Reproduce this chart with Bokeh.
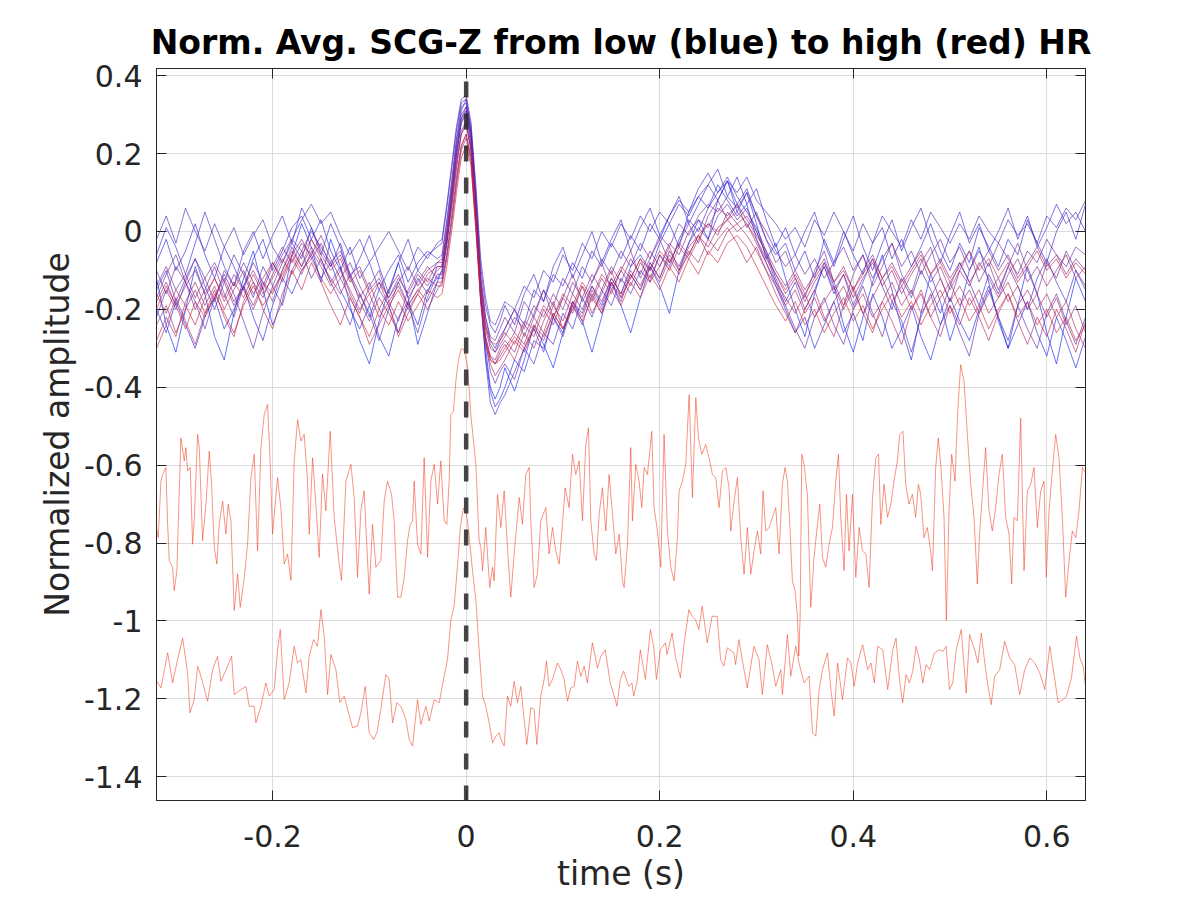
import numpy as np
from bokeh.plotting import figure
from bokeh.models import (Range1d, FixedTicker, LinearAxis, CustomJSTickFormatter,
                          CustomLabelingPolicy)
from bokeh.embed import file_html
from bokeh.resources import INLINE

# ---------------- data ----------------
title_text = "Norm. Avg. SCG-Z from low (blue) to high (red) HR"
x_label = "time (s)"
y_label = "Normalized amplitude"
x_ticks = [-0.2, 0.0, 0.2, 0.4, 0.6]
y_ticks = [-1.4, -1.2, -1.0, -0.8, -0.6, -0.4, -0.2, 0.0, 0.2, 0.4]
x_lim = [-0.32, 0.64]
y_lim = [-1.461, 0.4185]

# beat onset marker (t = 0)
marker_t = [0.0, 0.0]
marker_v = [0.385, -1.461]

# common time base of the averaged beats (s)
t_bundle = np.concatenate([np.linspace(-0.32, -0.03, 30),
                           np.linspace(-0.025, 0.035, 13),
                           np.linspace(0.04, 0.64, 61)])

# averaged beats (listed from low HR / blue to high HR / red in `bundle` below)
hr13 = [-0.12, -0.24, -0.31, -0.20, -0.09, -0.16, -0.27, -0.33, -0.21, -0.12,
        -0.05, -0.15, -0.24, -0.18, -0.06, 0.02, -0.04, -0.13, -0.02, -0.09,
        -0.19, -0.28, -0.34, -0.23, -0.15, -0.08, -0.17, -0.29, -0.21, -0.13,
        -0.10, -0.02, 0.09, 0.20, 0.29, 0.31, 0.24, 0.06, -0.15, -0.30, -0.40, -0.43, -0.40,
        -0.35, -0.41, -0.33, -0.24, -0.29, -0.35, -0.26, -0.18, -0.23, -0.31,
        -0.22, -0.13, -0.19, -0.26, -0.17, -0.09, -0.14, -0.21, -0.10, -0.03,
        0.03, -0.02, 0.08, 0.13, 0.05, 0.10, 0.02, -0.07, -0.03, -0.12,
        -0.20, -0.27, -0.16, -0.08, -0.14, -0.24, -0.31, -0.22, -0.13, -0.06,
        -0.15, -0.25, -0.33, -0.21, -0.11, -0.18, -0.28, -0.20, -0.10, -0.04,
        -0.13, -0.23, -0.30, -0.19, -0.09, -0.16, -0.26, -0.34, -0.22, -0.12, -0.18]
hr01 = [-0.20, -0.26, -0.18, -0.24, -0.30, -0.22, -0.17, -0.25, -0.20, -0.14,
        -0.22, -0.28, -0.19, -0.12, -0.16, -0.10, -0.06, -0.12, -0.08, -0.15,
        -0.20, -0.25, -0.19, -0.27, -0.32, -0.22, -0.18, -0.24, -0.15, -0.12,
        -0.12, -0.03, 0.08, 0.19, 0.28, 0.30, 0.22, 0.04, -0.18, -0.32, -0.41, -0.45, -0.43,
        -0.40, -0.33, -0.36, -0.28, -0.30, -0.22, -0.26, -0.18, -0.21, -0.14,
        -0.19, -0.12, -0.16, -0.09, -0.06, -0.10, -0.03, 0.02, -0.04, 0.05,
        0.09, 0.06, 0.12, 0.08, 0.04, 0.07, -0.02, -0.08, -0.14, -0.20,
        -0.26, -0.22, -0.30, -0.24, -0.18, -0.26, -0.21, -0.28, -0.16, -0.22,
        -0.30, -0.25, -0.19, -0.27, -0.33, -0.24, -0.17, -0.23, -0.28, -0.20,
        -0.14, -0.22, -0.30, -0.24, -0.18, -0.26, -0.32, -0.22, -0.28, -0.35, -0.27]
hr02 = [-0.08, -0.02, -0.10, -0.05, 0.02, -0.06, -0.12, -0.04, -0.09, -0.15,
        -0.07, -0.02, -0.10, -0.05, 0.01, 0.04, -0.02, 0.03, -0.05, -0.10,
        -0.04, -0.12, -0.08, -0.15, -0.10, -0.06, -0.13, -0.08, -0.05, -0.07,
        -0.06, 0.03, 0.13, 0.24, 0.32, 0.33, 0.25, 0.08, -0.12, -0.22, -0.28, -0.30, -0.27,
        -0.25, -0.20, -0.24, -0.15, -0.18, -0.11, -0.14, -0.08, -0.12, -0.05,
        -0.09, -0.03, -0.07, -0.01, -0.05, 0.02, -0.02, 0.04, 0.08, 0.05,
        0.11, 0.15, 0.10, 0.13, 0.07, 0.11, 0.04, -0.02, -0.06, -0.03,
        -0.10, -0.05, -0.12, -0.02, -0.08, 0.00, -0.06, -0.11, -0.03, 0.01,
        -0.07, -0.02, -0.09, -0.04, 0.02, -0.05, -0.10, -0.03, -0.08, 0.01,
        -0.04, -0.09, -0.02, -0.06, 0.03, -0.03, -0.08, 0.00, 0.05, -0.02, 0.07]
hr14 = [-0.06, 0.01, -0.04, -0.11, -0.03, 0.05, -0.02, -0.09, -0.14, -0.05,
        0.00, -0.07, -0.01, 0.04, -0.03, 0.06, 0.01, -0.06, 0.02, -0.04,
        -0.12, -0.07, -0.01, -0.09, -0.16, -0.08, -0.02, -0.10, -0.06, -0.04,
        -0.03, 0.06, 0.16, 0.26, 0.33, 0.34, 0.27, 0.10, -0.09, -0.19, -0.24, -0.26, -0.23,
        -0.19, -0.24, -0.16, -0.11, -0.18, -0.09, -0.04, -0.12, -0.06, 0.00,
        -0.08, -0.02, 0.03, -0.05, 0.01, 0.06, -0.01, 0.04, 0.09, 0.02,
        0.07, 0.12, 0.16, 0.09, 0.14, 0.07, 0.11, 0.03, -0.04, 0.01,
        -0.06, 0.00, 0.05, -0.03, -0.09, -0.02, 0.04, -0.04, -0.10, -0.03,
        0.03, -0.05, 0.01, 0.06, -0.02, -0.08, -0.01, 0.05, -0.03, 0.02,
        -0.05, 0.00, 0.06, -0.02, 0.04, -0.04, 0.01, 0.07, 0.02, 0.05, 0.00]
hr03 = [-0.15, -0.10, -0.18, -0.12, -0.07, -0.14, -0.20, -0.13, -0.06, -0.11,
        -0.17, -0.09, -0.14, -0.08, -0.03, -0.07, 0.01, -0.05, -0.09, -0.03,
        -0.11, -0.16, -0.22, -0.15, -0.19, -0.26, -0.18, -0.12, -0.16, -0.09,
        -0.09, 0.00, 0.11, 0.22, 0.30, 0.32, 0.25, 0.07, -0.16, -0.33, -0.44, -0.47, -0.44,
        -0.42, -0.36, -0.30, -0.34, -0.26, -0.29, -0.21, -0.25, -0.17, -0.22,
        -0.15, -0.19, -0.12, -0.16, -0.10, -0.13, -0.06, -0.09, -0.02, 0.03,
        0.00, 0.06, 0.10, 0.14, 0.09, 0.05, 0.01, -0.05, -0.12, -0.18,
        -0.13, -0.20, -0.15, -0.09, -0.16, -0.11, -0.19, -0.13, -0.07, -0.14,
        -0.20, -0.12, -0.17, -0.10, -0.15, -0.21, -0.14, -0.08, -0.13, -0.19,
        -0.11, -0.16, -0.09, -0.14, -0.20, -0.12, -0.07, -0.13, -0.18, -0.10, -0.15]
hr04 = [-0.02, 0.04, -0.03, 0.06, 0.00, -0.05, 0.02, -0.04, 0.01, -0.06,
        -0.01, 0.03, -0.04, -0.08, -0.02, 0.03, 0.07, 0.02, 0.05, -0.01,
        -0.06, -0.02, -0.08, -0.04, 0.00, -0.05, -0.10, -0.04, -0.07, -0.03,
        -0.02, 0.07, 0.17, 0.27, 0.34, 0.35, 0.28, 0.12, -0.07, -0.17, -0.23, -0.24, -0.21,
        -0.18, -0.20, -0.14, -0.17, -0.10, -0.13, -0.06, -0.10, -0.03, -0.07,
        0.00, -0.04, 0.02, -0.02, 0.04, 0.00, 0.05, 0.02, 0.07, 0.04,
        0.09, 0.12, 0.08, 0.13, 0.10, 0.14, 0.08, 0.05, 0.02, -0.02,
        0.01, -0.04, 0.03, -0.01, 0.05, 0.00, -0.05, 0.02, -0.03, 0.04,
        0.00, -0.04, 0.03, -0.02, 0.05, 0.01, -0.03, 0.02, -0.02, 0.04,
        0.00, -0.03, 0.03, -0.01, 0.02, -0.03, 0.04, 0.01, 0.06, 0.03, 0.08]
hr05 = [-0.22, -0.15, -0.20, -0.13, -0.18, -0.25, -0.17, -0.11, -0.16, -0.23,
        -0.30, -0.21, -0.14, -0.19, -0.10, -0.05, -0.12, -0.07, -0.13, -0.18,
        -0.24, -0.16, -0.21, -0.28, -0.20, -0.13, -0.19, -0.26, -0.17, -0.11,
        -0.11, -0.03, 0.07, 0.17, 0.26, 0.28, 0.21, 0.04, -0.16, -0.28, -0.36, -0.39, -0.36,
        -0.34, -0.38, -0.30, -0.25, -0.31, -0.22, -0.27, -0.19, -0.24, -0.16,
        -0.21, -0.13, -0.18, -0.11, -0.15, -0.08, -0.12, -0.05, -0.09, -0.03,
        0.01, -0.02, 0.04, 0.07, 0.03, 0.06, 0.00, -0.06, -0.13, -0.19,
        -0.25, -0.30, -0.22, -0.17, -0.24, -0.29, -0.20, -0.14, -0.21, -0.27,
        -0.18, -0.23, -0.31, -0.22, -0.16, -0.24, -0.19, -0.26, -0.32, -0.21,
        -0.15, -0.22, -0.28, -0.19, -0.25, -0.30, -0.21, -0.16, -0.23, -0.29, -0.22]
hr06 = [-0.10, -0.16, -0.09, -0.13, -0.07, -0.12, -0.18, -0.10, -0.14, -0.08,
        -0.13, -0.17, -0.11, -0.06, -0.02, -0.05, 0.00, -0.04, -0.08, -0.05,
        -0.11, -0.09, -0.15, -0.12, -0.17, -0.13, -0.09, -0.14, -0.10, -0.08,
        -0.07, 0.02, 0.12, 0.23, 0.31, 0.34, 0.26, 0.09, -0.11, -0.22, -0.27, -0.28, -0.25,
        -0.22, -0.26, -0.18, -0.22, -0.15, -0.19, -0.12, -0.16, -0.09, -0.13,
        -0.07, -0.11, -0.05, -0.09, -0.03, -0.07, -0.01, -0.04, 0.02, -0.01,
        0.04, 0.07, 0.05, 0.09, 0.06, 0.10, 0.04, 0.00, -0.05, -0.09,
        -0.06, -0.11, -0.07, -0.12, -0.08, -0.04, -0.10, -0.06, -0.12, -0.07,
        -0.03, -0.09, -0.05, -0.11, -0.06, -0.02, -0.08, -0.04, -0.10, -0.05,
        -0.09, -0.03, -0.07, -0.11, -0.05, -0.08, -0.02, -0.06, -0.09, -0.04, -0.06]
hr15 = [-0.17, -0.11, -0.06, -0.13, -0.20, -0.15, -0.09, -0.16, -0.22, -0.14,
        -0.08, -0.13, -0.18, -0.10, -0.04, -0.09, -0.02, -0.07, -0.13, -0.09,
        -0.16, -0.21, -0.14, -0.10, -0.18, -0.23, -0.15, -0.10, -0.13, -0.08,
        -0.08, 0.00, 0.10, 0.21, 0.29, 0.32, 0.25, 0.07, -0.13, -0.24, -0.29, -0.31, -0.28,
        -0.25, -0.20, -0.27, -0.21, -0.15, -0.22, -0.17, -0.11, -0.18, -0.13,
        -0.08, -0.15, -0.10, -0.05, -0.12, -0.07, -0.02, -0.08, -0.03, 0.02,
        -0.03, 0.04, 0.08, 0.03, 0.07, 0.01, 0.05, -0.02, -0.08, -0.05,
        -0.12, -0.17, -0.10, -0.05, -0.13, -0.19, -0.11, -0.06, -0.14, -0.09,
        -0.03, -0.11, -0.16, -0.08, -0.04, -0.12, -0.18, -0.10, -0.05, -0.13,
        -0.08, -0.15, -0.09, -0.03, -0.10, -0.16, -0.08, -0.12, -0.05, -0.10, -0.14]
hr07 = [-0.14, -0.09, -0.15, -0.11, -0.17, -0.12, -0.08, -0.13, -0.19, -0.14,
        -0.10, -0.15, -0.09, -0.04, -0.08, -0.03, -0.06, -0.01, -0.07, -0.12,
        -0.08, -0.14, -0.19, -0.13, -0.17, -0.12, -0.16, -0.11, -0.14, -0.10,
        -0.09, -0.01, 0.09, 0.20, 0.28, 0.31, 0.23, 0.06, -0.14, -0.25, -0.30, -0.31, -0.29,
        -0.27, -0.22, -0.25, -0.19, -0.22, -0.16, -0.20, -0.13, -0.17, -0.11,
        -0.15, -0.09, -0.13, -0.07, -0.11, -0.05, -0.09, -0.03, -0.06, 0.00,
        0.03, 0.01, 0.06, 0.04, 0.07, 0.03, -0.01, -0.05, -0.10, -0.14,
        -0.10, -0.15, -0.11, -0.07, -0.13, -0.09, -0.15, -0.10, -0.06, -0.12,
        -0.08, -0.13, -0.09, -0.05, -0.11, -0.07, -0.12, -0.08, -0.13, -0.09,
        -0.05, -0.10, -0.06, -0.12, -0.08, -0.04, -0.09, -0.06, -0.11, -0.07, -0.10]
hr08 = [-0.18, -0.13, -0.19, -0.14, -0.10, -0.16, -0.12, -0.17, -0.11, -0.15,
        -0.20, -0.14, -0.08, -0.12, -0.06, -0.02, -0.07, -0.03, -0.09, -0.06,
        -0.12, -0.17, -0.13, -0.20, -0.15, -0.11, -0.17, -0.13, -0.09, -0.12,
        -0.10, -0.03, 0.06, 0.16, 0.25, 0.28, 0.21, 0.04, -0.15, -0.27, -0.32, -0.33, -0.30,
        -0.28, -0.31, -0.24, -0.27, -0.20, -0.24, -0.17, -0.21, -0.14, -0.18,
        -0.12, -0.16, -0.10, -0.14, -0.08, -0.12, -0.06, -0.10, -0.04, -0.07,
        -0.02, 0.02, -0.01, 0.05, 0.02, 0.04, 0.00, -0.06, -0.11, -0.16,
        -0.12, -0.18, -0.13, -0.09, -0.15, -0.11, -0.17, -0.12, -0.08, -0.14,
        -0.10, -0.16, -0.11, -0.07, -0.13, -0.09, -0.15, -0.10, -0.14, -0.08,
        -0.12, -0.17, -0.11, -0.07, -0.13, -0.09, -0.14, -0.10, -0.06, -0.12, -0.09]
hr09 = [-0.24, -0.19, -0.26, -0.20, -0.15, -0.21, -0.17, -0.12, -0.18, -0.14,
        -0.19, -0.13, -0.16, -0.10, -0.05, -0.09, -0.04, -0.08, -0.12, -0.16,
        -0.11, -0.18, -0.23, -0.17, -0.21, -0.26, -0.19, -0.15, -0.18, -0.13,
        -0.13, -0.06, 0.03, 0.13, 0.22, 0.25, 0.19, 0.02, -0.17, -0.28, -0.33, -0.34, -0.32,
        -0.30, -0.26, -0.29, -0.22, -0.26, -0.19, -0.23, -0.16, -0.20, -0.14,
        -0.18, -0.12, -0.16, -0.10, -0.14, -0.08, -0.12, -0.06, -0.10, -0.04,
        -0.01, -0.04, 0.01, 0.03, 0.00, 0.02, -0.03, -0.08, -0.13, -0.17,
        -0.21, -0.16, -0.22, -0.18, -0.14, -0.20, -0.15, -0.21, -0.17, -0.12,
        -0.18, -0.14, -0.20, -0.16, -0.22, -0.17, -0.13, -0.19, -0.15, -0.21,
        -0.16, -0.12, -0.18, -0.14, -0.20, -0.16, -0.22, -0.17, -0.24, -0.19, -0.26]
hr10 = [-0.28, -0.22, -0.27, -0.18, -0.13, -0.19, -0.14, -0.20, -0.15, -0.10,
        -0.16, -0.12, -0.08, -0.13, -0.07, -0.11, -0.05, -0.09, -0.14, -0.10,
        -0.15, -0.20, -0.16, -0.22, -0.18, -0.14, -0.19, -0.15, -0.12, -0.14,
        -0.14, -0.07, 0.02, 0.12, 0.21, 0.24, 0.18, 0.01, -0.18, -0.29, -0.34, -0.37, -0.35,
        -0.33, -0.28, -0.31, -0.25, -0.28, -0.21, -0.25, -0.18, -0.22, -0.15,
        -0.20, -0.13, -0.17, -0.11, -0.15, -0.09, -0.13, -0.07, -0.11, -0.05,
        -0.08, -0.02, -0.05, 0.00, 0.02, -0.01, -0.05, -0.10, -0.14, -0.19,
        -0.15, -0.21, -0.17, -0.23, -0.18, -0.14, -0.20, -0.16, -0.22, -0.18,
        -0.13, -0.19, -0.15, -0.21, -0.17, -0.12, -0.18, -0.14, -0.19, -0.15,
        -0.21, -0.17, -0.13, -0.19, -0.15, -0.20, -0.16, -0.22, -0.18, -0.25, -0.30]
hr16 = [-0.30, -0.24, -0.17, -0.23, -0.29, -0.21, -0.15, -0.22, -0.27, -0.18,
        -0.13, -0.20, -0.25, -0.16, -0.10, -0.15, -0.08, -0.13, -0.19, -0.24,
        -0.17, -0.22, -0.29, -0.24, -0.19, -0.27, -0.21, -0.16, -0.20, -0.15,
        -0.13, -0.06, 0.04, 0.14, 0.22, 0.25, 0.19, 0.02, -0.17, -0.27, -0.32, -0.34, -0.31,
        -0.29, -0.33, -0.26, -0.30, -0.23, -0.18, -0.25, -0.20, -0.14, -0.21,
        -0.16, -0.10, -0.17, -0.12, -0.07, -0.13, -0.09, -0.04, -0.10, -0.06,
        -0.01, -0.06, -0.02, 0.01, -0.03, -0.08, -0.04, -0.10, -0.16, -0.21,
        -0.26, -0.20, -0.15, -0.22, -0.27, -0.19, -0.14, -0.21, -0.26, -0.18,
        -0.23, -0.29, -0.20, -0.15, -0.22, -0.27, -0.19, -0.24, -0.17, -0.22,
        -0.28, -0.21, -0.16, -0.23, -0.29, -0.22, -0.27, -0.20, -0.25, -0.31, -0.23]
hr11 = [-0.16, -0.21, -0.15, -0.19, -0.24, -0.17, -0.12, -0.18, -0.13, -0.17,
        -0.11, -0.16, -0.12, -0.07, -0.11, -0.06, -0.02, -0.06, -0.10, -0.07,
        -0.13, -0.10, -0.16, -0.13, -0.19, -0.15, -0.20, -0.16, -0.11, -0.09,
        -0.09, -0.01, 0.08, 0.18, 0.25, 0.27, 0.21, 0.05, -0.14, -0.24, -0.28, -0.29, -0.28,
        -0.26, -0.29, -0.23, -0.25, -0.19, -0.22, -0.16, -0.19, -0.13, -0.17,
        -0.11, -0.14, -0.09, -0.12, -0.07, -0.10, -0.05, -0.08, -0.03, -0.06,
        -0.01, 0.02, 0.00, 0.03, 0.05, 0.02, -0.02, -0.07, -0.11, -0.15,
        -0.11, -0.16, -0.12, -0.08, -0.13, -0.10, -0.15, -0.11, -0.07, -0.12,
        -0.09, -0.14, -0.10, -0.06, -0.11, -0.08, -0.13, -0.09, -0.05, -0.10,
        -0.07, -0.12, -0.08, -0.13, -0.09, -0.05, -0.10, -0.07, -0.12, -0.08, -0.11]
hr12 = [-0.20, -0.14, -0.19, -0.25, -0.18, -0.22, -0.16, -0.21, -0.26, -0.19,
        -0.14, -0.19, -0.15, -0.11, -0.06, -0.10, -0.07, -0.12, -0.16, -0.12,
        -0.17, -0.22, -0.27, -0.20, -0.24, -0.18, -0.23, -0.19, -0.15, -0.17,
        -0.16, -0.09, 0.00, 0.10, 0.19, 0.22, 0.17, 0.00, -0.18, -0.28, -0.33, -0.34, -0.33,
        -0.31, -0.27, -0.30, -0.24, -0.27, -0.21, -0.25, -0.19, -0.23, -0.17,
        -0.21, -0.15, -0.19, -0.13, -0.17, -0.11, -0.15, -0.09, -0.13, -0.07,
        -0.11, -0.05, -0.08, -0.03, -0.01, -0.04, -0.09, -0.14, -0.19, -0.23,
        -0.18, -0.24, -0.20, -0.26, -0.21, -0.17, -0.23, -0.19, -0.25, -0.20,
        -0.16, -0.22, -0.18, -0.24, -0.19, -0.15, -0.21, -0.17, -0.23, -0.19,
        -0.25, -0.20, -0.16, -0.22, -0.18, -0.24, -0.20, -0.26, -0.22, -0.28, -0.24]

# the two highest-HR averages (shifted down), (time, amplitude)
mid_pts = [
    (-0.3215, -0.675), (-0.3206, -0.752), (-0.3182, -0.786), (-0.3154, -0.641), (-0.3137, -0.624),
    (-0.3103, -0.606), (-0.3085, -0.752), (-0.3068, -0.845), (-0.3034, -0.862), (-0.3017, -0.922),
    (-0.2989, -0.871), (-0.2965, -0.666), (-0.2948, -0.530), (-0.2913, -0.589), (-0.2896, -0.555),
    (-0.2879, -0.615), (-0.2851, -0.606), (-0.2827, -0.803), (-0.2810, -0.743), (-0.2775, -0.521),
    (-0.2758, -0.555), (-0.2724, -0.794), (-0.2689, -0.700), (-0.2655, -0.564), (-0.2631, -0.649),
    (-0.2603, -0.811), (-0.2576, -0.854), (-0.2552, -0.752), (-0.2517, -0.692), (-0.2483, -0.777),
    (-0.2459, -0.700), (-0.2431, -0.743), (-0.2397, -0.973), (-0.2362, -0.879), (-0.2335, -0.965),
    (-0.2293, -0.888), (-0.2259, -0.803), (-0.2224, -0.632), (-0.2190, -0.572), (-0.2156, -0.820),
    (-0.2121, -0.555), (-0.2087, -0.470), (-0.2052, -0.444), (-0.2025, -0.598), (-0.2001, -0.777),
    (-0.1949, -0.632), (-0.1915, -0.709), (-0.1880, -0.854), (-0.1846, -0.828), (-0.1811, -0.896),
    (-0.1777, -0.589), (-0.1742, -0.483), (-0.1708, -0.538), (-0.1674, -0.521), (-0.1639, -0.641),
    (-0.1622, -0.777), (-0.1587, -0.581), (-0.1553, -0.700), (-0.1519, -0.837), (-0.1484, -0.623),
    (-0.1450, -0.717), (-0.1405, -0.513), (-0.1364, -0.734), (-0.1312, -0.854), (-0.1288, -0.896),
    (-0.1243, -0.641), (-0.1191, -0.598), (-0.1157, -0.683), (-0.1123, -0.888), (-0.1088, -0.717),
    (-0.1054, -0.666), (-0.1002, -0.931), (-0.0968, -0.752), (-0.0933, -0.862), (-0.0882, -0.845),
    (-0.0847, -0.692), (-0.0813, -0.641), (-0.0771, -0.675), (-0.0744, -0.743), (-0.0709, -0.939),
    (-0.0675, -0.939), (-0.0640, -0.888), (-0.0606, -0.794), (-0.0579, -0.752), (-0.0554, -0.743),
    (-0.0537, -0.641), (-0.0503, -0.803), (-0.0468, -0.828), (-0.0434, -0.581), (-0.0399, -0.837),
    (-0.0365, -0.641), (-0.0331, -0.598), (-0.0296, -0.700), (-0.0262, -0.589), (-0.0227, -0.743),
    (-0.0200, -0.752), (-0.0176, -0.641), (-0.0158, -0.470), (-0.0131, -0.461), (-0.0107, -0.385),
    (-0.0080, -0.330), (-0.0050, -0.300), (-0.0020, -0.305), (0.0010, -0.340), (0.0030, -0.400),
    (0.0048, -0.470), (0.0100, -0.598), (0.0134, -0.794), (0.0152, -0.811), (0.0169, -0.871),
    (0.0203, -0.760), (0.0220, -0.828), (0.0244, -0.914), (0.0272, -0.862), (0.0289, -0.897),
    (0.0324, -0.675), (0.0358, -0.760), (0.0393, -0.666), (0.0427, -0.811), (0.0461, -0.939),
    (0.0496, -0.828), (0.0548, -0.683), (0.0582, -0.752), (0.0616, -0.624), (0.0651, -0.606),
    (0.0668, -0.743), (0.0702, -0.914), (0.0737, -0.879), (0.0771, -0.743), (0.0823, -0.709),
    (0.0857, -0.828), (0.0892, -0.760), (0.0926, -0.820), (0.0961, -0.854), (0.0995, -0.752),
    (0.1023, -0.658), (0.1064, -0.709), (0.1098, -0.572), (0.1133, -0.624), (0.1167, -0.589),
    (0.1202, -0.743), (0.1236, -0.547), (0.1264, -0.504), (0.1288, -0.743), (0.1322, -0.828),
    (0.1346, -0.845), (0.1374, -0.726), (0.1408, -0.658), (0.1443, -0.769), (0.1477, -0.624),
    (0.1512, -0.726), (0.1546, -0.828), (0.1581, -0.777), (0.1615, -0.897), (0.1632, -0.914),
    (0.1667, -0.803), (0.1701, -0.555), (0.1718, -0.743), (0.1753, -0.598), (0.1787, -0.641),
    (0.1815, -0.709), (0.1839, -0.606), (0.1873, -0.624), (0.1918, -0.513), (0.1942, -0.709),
    (0.1977, -0.769), (0.2011, -0.862), (0.2045, -0.521), (0.2080, -0.769), (0.2114, -0.862),
    (0.2149, -0.897), (0.2183, -0.786), (0.2200, -0.666), (0.2235, -0.641), (0.2269, -0.598),
    (0.2304, -0.419), (0.2338, -0.683), (0.2373, -0.427), (0.2400, -0.530), (0.2435, -0.572),
    (0.2476, -0.547), (0.2510, -0.581), (0.2545, -0.624), (0.2579, -0.632), (0.2614, -0.709),
    (0.2648, -0.615), (0.2683, -0.606), (0.2717, -0.658), (0.2734, -0.769), (0.2769, -0.692),
    (0.2803, -0.632), (0.2837, -0.786), (0.2872, -0.880), (0.2906, -0.760), (0.2941, -0.880),
    (0.2975, -0.820), (0.3010, -0.769), (0.3044, -0.828), (0.3068, -0.666), (0.3096, -0.769),
    (0.3130, -0.760), (0.3199, -0.709), (0.3233, -0.828), (0.3268, -0.649), (0.3296, -0.606),
    (0.3320, -0.641), (0.3344, -0.752), (0.3371, -0.897), (0.3399, -0.922), (0.3423, -0.990),
    (0.3437, -1.090), (0.3451, -0.990), (0.3468, -0.572), (0.3492, -0.598), (0.3526, -0.675),
    (0.3561, -0.965), (0.3595, -0.837), (0.3630, -0.752), (0.3654, -0.700), (0.3682, -0.837),
    (0.3716, -0.862), (0.3750, -0.803), (0.3785, -0.760), (0.3819, -0.641), (0.3847, -0.572),
    (0.3871, -0.734), (0.3905, -0.871), (0.3930, -0.675), (0.3957, -0.820), (0.3992, -0.675),
    (0.4026, -0.888), (0.4061, -0.760), (0.4095, -0.820), (0.4130, -0.828), (0.4164, -0.914),
    (0.4199, -0.683), (0.4233, -0.581), (0.4261, -0.572), (0.4285, -0.752), (0.4319, -0.649),
    (0.4354, -0.734), (0.4388, -0.700), (0.4421, -0.641), (0.4456, -0.589), (0.4480, -0.521),
    (0.4514, -0.513), (0.4542, -0.649), (0.4576, -0.700), (0.4611, -0.675), (0.4645, -0.734),
    (0.4673, -0.649), (0.4697, -0.675), (0.4731, -0.786), (0.4766, -0.760), (0.4800, -0.820),
    (0.4818, -0.871), (0.4852, -0.606), (0.4879, -0.530), (0.4904, -0.598), (0.4938, -0.734),
    (0.4962, -0.999), (0.4990, -0.717), (0.5017, -0.572), (0.5052, -0.641), (0.5076, -0.479),
    (0.5110, -0.342), (0.5145, -0.385), (0.5179, -0.521), (0.5214, -0.649), (0.5248, -0.734),
    (0.5282, -0.905), (0.5306, -0.777), (0.5334, -0.675), (0.5368, -0.555), (0.5403, -0.717),
    (0.5437, -0.769), (0.5472, -0.709), (0.5506, -0.624), (0.5541, -0.572), (0.5575, -0.734),
    (0.5610, -0.777), (0.5637, -0.905), (0.5661, -0.734), (0.5696, -0.743), (0.5730, -0.479),
    (0.5765, -0.871), (0.5799, -0.666), (0.5834, -0.649), (0.5868, -0.606), (0.5902, -0.760),
    (0.5937, -0.666), (0.5971, -0.641), (0.5995, -0.888), (0.6023, -0.717), (0.6057, -0.615),
    (0.6092, -0.521), (0.6126, -0.581), (0.6161, -0.734), (0.6195, -0.939), (0.6230, -0.845),
    (0.6264, -0.769), (0.6299, -0.786), (0.6333, -0.717), (0.6368, -0.606), (0.6400, -0.620),
]
low_pts = [
    (-0.3210, -1.150), (-0.3154, -1.172), (-0.3085, -1.082), (-0.3034, -1.159), (-0.2982, -1.099),
    (-0.2930, -1.044), (-0.2879, -1.133), (-0.2855, -1.236), (-0.2810, -1.202), (-0.2775, -1.116),
    (-0.2741, -1.142), (-0.2672, -1.206), (-0.2620, -1.125), (-0.2569, -1.091), (-0.2534, -1.155),
    (-0.2466, -1.116), (-0.2424, -1.091), (-0.2397, -1.189), (-0.2328, -1.176), (-0.2276, -1.168),
    (-0.2242, -1.219), (-0.2190, -1.219), (-0.2173, -1.262), (-0.2121, -1.219), (-0.2070, -1.159),
    (-0.2035, -1.193), (-0.1983, -1.176), (-0.1949, -1.074), (-0.1921, -1.022), (-0.1880, -1.202),
    (-0.1829, -1.159), (-0.1777, -1.065), (-0.1742, -1.108), (-0.1708, -1.099), (-0.1656, -1.185),
    (-0.1622, -1.091), (-0.1577, -1.048), (-0.1536, -1.065), (-0.1501, -0.971), (-0.1467, -1.039),
    (-0.1432, -1.189), (-0.1398, -1.086), (-0.1346, -1.125), (-0.1305, -1.210), (-0.1260, -1.193),
    (-0.1226, -1.227), (-0.1174, -1.274), (-0.1123, -1.270), (-0.1088, -1.236), (-0.1043, -1.168),
    (-0.1002, -1.287), (-0.0957, -1.304), (-0.0923, -1.287), (-0.0882, -1.227), (-0.0830, -1.138),
    (-0.0795, -1.150), (-0.0761, -1.262), (-0.0716, -1.210), (-0.0675, -1.219), (-0.0623, -1.253),
    (-0.0589, -1.304), (-0.0554, -1.321), (-0.0503, -1.202), (-0.0468, -1.266), (-0.0417, -1.219),
    (-0.0382, -1.257), (-0.0331, -1.202), (-0.0279, -1.210), (-0.0234, -1.150), (-0.0193, -1.099),
    (-0.0158, -0.997), (-0.0124, -0.962), (-0.0090, -0.860), (-0.0060, -0.760), (-0.0030, -0.710),
    (0.0000, -0.720), (0.0030, -0.780), (0.0065, -0.870), (0.0100, -0.945), (0.0134, -1.074),
    (0.0169, -1.193), (0.0203, -1.219), (0.0238, -1.262), (0.0272, -1.313), (0.0306, -1.296),
    (0.0341, -1.287), (0.0358, -1.304), (0.0393, -1.321), (0.0427, -1.193), (0.0461, -1.219),
    (0.0496, -1.155), (0.0530, -1.210), (0.0565, -1.168), (0.0599, -1.253), (0.0627, -1.317),
    (0.0668, -1.223), (0.0702, -1.227), (0.0730, -1.317), (0.0771, -1.193), (0.0806, -1.150),
    (0.0830, -1.103), (0.0857, -1.168), (0.0892, -1.150), (0.0944, -1.108), (0.0978, -1.125),
    (0.1012, -1.150), (0.1047, -1.206), (0.1081, -1.172), (0.1116, -1.168), (0.1150, -1.103),
    (0.1185, -1.142), (0.1219, -1.116), (0.1253, -1.159), (0.1305, -1.056), (0.1357, -1.121),
    (0.1391, -1.091), (0.1437, -1.074), (0.1489, -1.159), (0.1541, -1.202), (0.1558, -1.219),
    (0.1593, -1.150), (0.1627, -1.129), (0.1679, -1.168), (0.1713, -1.159), (0.1731, -1.193),
    (0.1765, -1.159), (0.1800, -1.074), (0.1852, -1.150), (0.1904, -1.022), (0.1938, -1.065),
    (0.1966, -1.150), (0.2007, -1.074), (0.2059, -1.056), (0.2076, -1.086), (0.2128, -1.031),
    (0.2162, -1.091), (0.2214, -1.146), (0.2249, -1.065), (0.2301, -0.971), (0.2335, -0.988),
    (0.2370, -0.997), (0.2404, -1.022), (0.2439, -0.962), (0.2491, -1.056), (0.2542, -0.988),
    (0.2594, -0.988), (0.2629, -1.099), (0.2663, -1.116), (0.2698, -1.069), (0.2767, -1.082),
    (0.2784, -1.112), (0.2819, -1.048), (0.2871, -1.125), (0.2905, -1.172), (0.2974, -1.065),
    (0.3026, -1.099), (0.3061, -1.189), (0.3112, -1.061), (0.3164, -1.116), (0.3199, -1.168),
    (0.3251, -1.125), (0.3268, -1.189), (0.3320, -1.035), (0.3354, -1.142), (0.3406, -1.065),
    (0.3440, -1.108), (0.3492, -1.159), (0.3544, -1.142), (0.3579, -1.287), (0.3613, -1.296),
    (0.3648, -1.176), (0.3682, -1.125), (0.3734, -1.082), (0.3769, -1.176), (0.3803, -1.244),
    (0.3838, -1.108), (0.3889, -1.202), (0.3941, -1.095), (0.3976, -1.108), (0.4010, -1.168),
    (0.4045, -1.108), (0.4097, -1.061), (0.4149, -1.125), (0.4183, -1.108), (0.4218, -1.159),
    (0.4252, -1.065), (0.4304, -1.074), (0.4356, -1.176), (0.4408, -1.074), (0.4442, -1.044),
    (0.4477, -1.150), (0.4511, -1.210), (0.4546, -1.138), (0.4580, -1.159), (0.4615, -1.129),
    (0.4649, -1.065), (0.4684, -1.099), (0.4718, -1.159), (0.4753, -1.112), (0.4788, -1.125),
    (0.4839, -1.082), (0.4891, -1.074), (0.4926, -1.078), (0.4960, -1.065), (0.4995, -1.176),
    (0.5029, -1.159), (0.5064, -1.074), (0.5116, -1.022), (0.5167, -1.185), (0.5202, -1.035),
    (0.5254, -1.074), (0.5288, -1.108), (0.5323, -1.031), (0.5357, -1.103), (0.5392, -1.168),
    (0.5426, -1.215), (0.5461, -1.142), (0.5513, -1.125), (0.5565, -1.052), (0.5616, -1.095),
    (0.5668, -1.112), (0.5720, -1.189), (0.5772, -1.125), (0.5824, -1.095), (0.5876, -1.108),
    (0.5927, -1.133), (0.5979, -1.176), (0.6031, -1.065), (0.6083, -1.150), (0.6117, -1.210),
    (0.6169, -1.202), (0.6204, -1.193), (0.6255, -1.146), (0.6307, -1.039), (0.6342, -1.095),
    (0.6376, -1.116), (0.6400, -1.168),
]

# low HR (blue) -> high HR (red)
bundle = [hr13, hr01, hr02, hr14, hr03, hr04, hr05, hr06,
          hr15, hr07, hr08, hr09, hr10, hr16, hr11, hr12]
for i, tr in enumerate(bundle):
    assert len(tr) == len(t_bundle), (i, len(tr))

# ---------------- styles ----------------
bundle_colors = ["#0a1ef5", "#171ee9", "#241edc", "#311ed0", "#3e1ec4", "#4b1eb7",
                 "#581eab", "#651e9f", "#721e92", "#7f1e86", "#8c1e7a", "#991e6d",
                 "#a61e61", "#b31e55", "#c01e48", "#cd1e3c"]
high_color = "#f03c1e"
axis_color = "#262626"
FONT = "DejaVu Sans"

p = figure(frame_width=929, frame_height=732,
           x_range=Range1d(*x_lim), y_range=Range1d(*y_lim),
           output_backend="svg", toolbar_location=None,
           min_border_left=156, min_border_right=107,
           min_border_top=68, min_border_bottom=92,
           background_fill_color="white", border_fill_color="white")

p.outline_line_color = axis_color
p.outline_line_width = 1

for tr, c in zip(bundle, bundle_colors):
    p.line(t_bundle, tr, line_color=c, line_alpha=0.62, line_width=1)
for pts in (mid_pts, low_pts):
    tt = [a for a, b in pts]
    vv = [b for a, b in pts]
    p.line(tt, vv, line_color=high_color, line_alpha=0.55, line_width=1)

p.line(marker_t, marker_v, line_color="#262626", line_alpha=0.85,
       line_width=4.5, line_dash="16 16")

fmt = CustomJSTickFormatter(code="return String(Number(tick.toFixed(2)));")
no_labels = CustomLabelingPolicy(
    code="for (const i of Array.from(indices)) { indices.unset(i) } return indices;")

def style_axis(ax, ticks, show_labels):
    ax.ticker = FixedTicker(ticks=ticks)
    ax.formatter = fmt
    ax.axis_line_color = axis_color
    ax.major_tick_line_color = axis_color
    ax.major_tick_in = 10
    ax.major_tick_out = 0
    ax.minor_tick_line_color = None
    ax.major_label_text_font = FONT
    ax.major_label_text_color = axis_color
    if show_labels:
        ax.major_label_text_font_size = "30px"
    else:
        ax.major_label_text_font_size = "1px"
        ax.major_label_policy = no_labels
        ax.major_label_standoff = 0

xb = p.below[0]
yl = p.left[0]
style_axis(xb, x_ticks, True)
style_axis(yl, y_ticks, True)
xb.major_label_standoff = 24
yl.major_label_standoff = 14

xb.axis_label = x_label
yl.axis_label = y_label
for ax in (xb, yl):
    ax.axis_label_text_font = FONT
    ax.axis_label_text_font_size = "33px"
    ax.axis_label_text_font_style = "normal"
    ax.axis_label_text_color = axis_color
xb.axis_label_standoff = 4
yl.axis_label_standoff = 4

xt = LinearAxis()
yr = LinearAxis()
style_axis(xt, x_ticks, False)
style_axis(yr, y_ticks, False)
p.add_layout(xt, "above")
p.add_layout(yr, "right")

p.xgrid.ticker = FixedTicker(ticks=x_ticks)
p.ygrid.ticker = FixedTicker(ticks=y_ticks)
for g in (p.xgrid, p.ygrid):
    g.grid_line_color = "#dcdcdc"
    g.grid_line_width = 1

p.title.text = title_text
p.title.align = "center"
p.title.text_font = FONT
p.title.text_font_size = "33px"
p.title.text_font_style = "bold"
p.title.text_color = "black"
p.title.standoff = 6

open("out.html", "w").write(file_html(p, INLINE))
